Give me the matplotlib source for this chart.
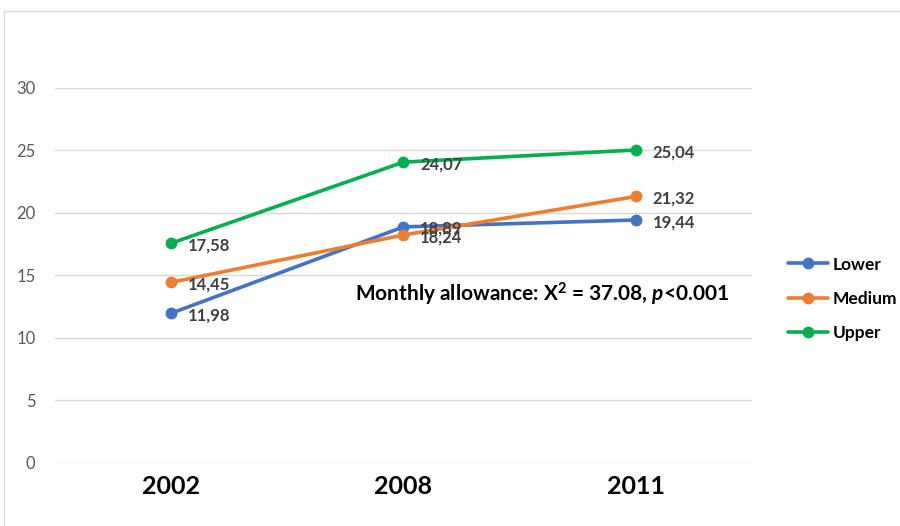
import matplotlib.pyplot as plt
from matplotlib.patches import Rectangle

plt.rcParams["font.family"] = ["Lato", "DejaVu Sans"]
plt.rcParams["mathtext.fontset"] = "custom"
plt.rcParams["mathtext.bf"] = "Lato:bold"
plt.rcParams["mathtext.bfit"] = "Lato:italic:bold"
plt.rcParams["mathtext.it"] = "Lato:italic"
plt.rcParams["mathtext.rm"] = "Lato"

years = ["2002", "2008", "2011"]
lower = [11.98, 18.89, 19.44]
medium = [14.45, 18.24, 21.32]
upper = [17.58, 24.07, 25.04]
series_names = ["Lower", "Medium", "Upper"]
colors = ["#4472C4", "#ED7D31", "#00B050"]

fig = plt.figure(figsize=(9, 5.26), dpi=100)
ax = fig.add_axes([0.0611, 0.1198, 0.7744, 0.7129])

x = range(len(years))
for vals, name, c in zip([lower, medium, upper], series_names, colors):
    ax.plot(x, vals, color=c, lw=2.6, marker="o", ms=7.5, label=name,
            solid_capstyle="round", zorder=3)
    for xi, v in zip(x, vals):
        ax.annotate(f"{v:.2f}".replace(".", ","), (xi, v), xytext=(12, -1.5),
                    textcoords="offset points", ha="left", va="center",
                    fontsize=12, fontweight="bold", color="#404040", zorder=5)

ax.set_xlim(-0.5, 2.5)
ax.set_ylim(0, 30)
ax.set_yticks(range(0, 31, 5))
ax.set_xticks(list(x))
ax.set_xticklabels(years, fontsize=18, fontweight="bold", color="black")
ax.tick_params(axis="y", labelsize=12, labelcolor="#595959", length=0, pad=14)
ax.tick_params(axis="x", length=0, pad=9)
ax.grid(axis="y", color="#d9d9d9", lw=1)
ax.set_axisbelow(True)
for s in ax.spines.values():
    s.set_visible(False)

ax.text(1.596, 13.5, r"Monthly allowance: X$^{\mathbf{2}}$ = 37.08, $\mathbfit{p}$<0.001",
        fontsize=15, fontweight="bold", color="black", ha="center", va="center")

fig.legend(loc="center left", bbox_to_anchor=(0.858, 0.432), frameon=False,
           prop={"size": 12.5, "weight": "bold"}, handlelength=2.3, labelspacing=1.05,
           handletextpad=0.3)

fig.patches.append(Rectangle((4 / 900, -0.1), 1.2, 1.079, transform=fig.transFigure,
                             fill=False, edgecolor="#d9d9d9", lw=1))

fig.savefig("out.png", dpi=100)
